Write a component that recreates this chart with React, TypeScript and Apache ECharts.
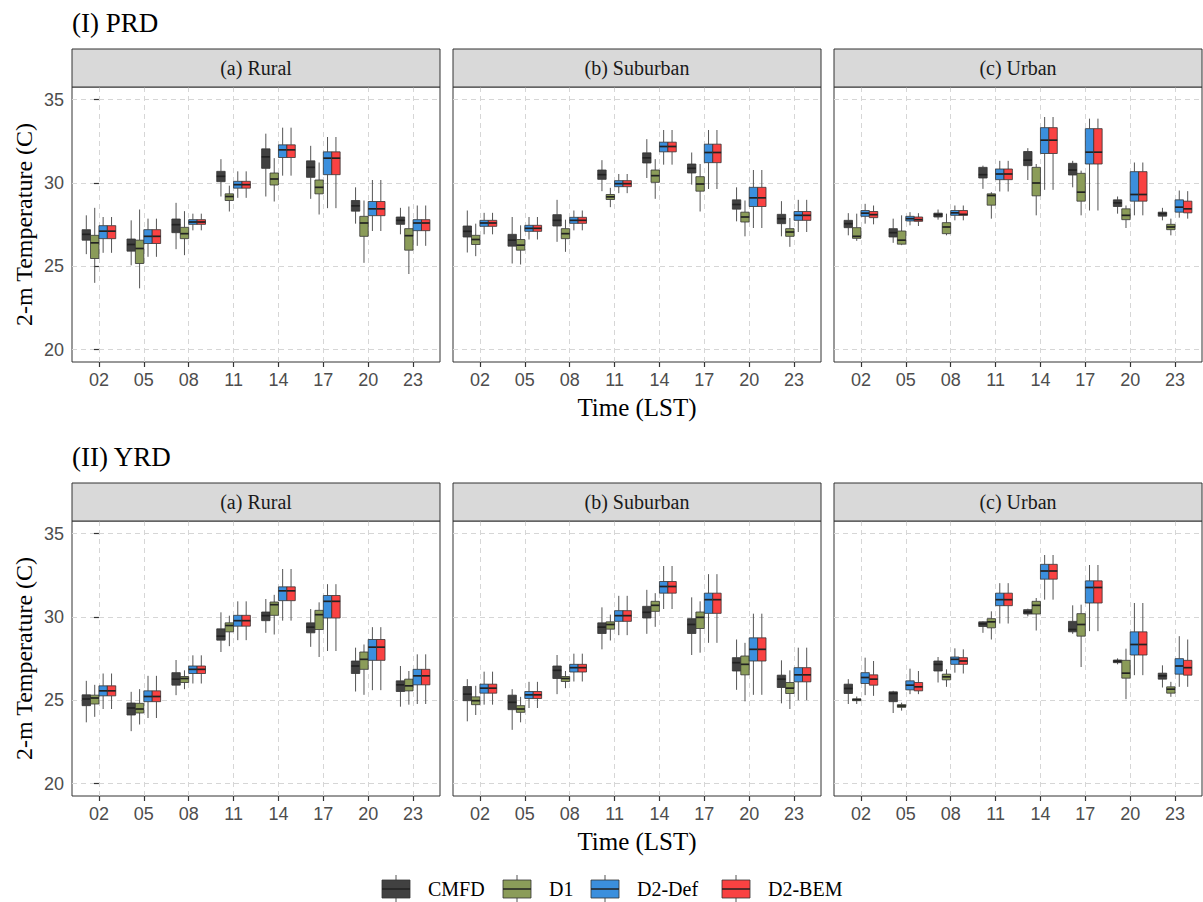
import React, { useEffect, useRef } from 'react';
import * as echarts from 'echarts';

// ---------- categories / labels ----------
const timeLabels = ['02', '05', '08', '11', '14', '17', '20', '23'];
const models = ['CMFD', 'D1', 'D2-Def', 'D2-BEM'];
const modelColors = ['#414141', '#8b9c59', '#3b8fdd', '#f94242'];
const siteNames = ['(a) Rural', '(b) Suburban', '(c) Urban'];
const regionTitles = ['(I) PRD', '(II) YRD'];
const yTicks = [20, 25, 30, 35];
const xTicks = [0, 1, 2, 3, 4, 5, 6, 7];

// ---------- data: [min, q1, median, q3, max] per time ----------
// PRD Rural
const prdRuralCMFD = [[25.72, 26.56, 26.91, 27.19, 28.05], [25.05, 25.9, 26.3, 26.63, 27.75], [26.02, 27.01, 27.49, 27.83, 28.8], [29.18, 30.07, 30.39, 30.69, 31.42], [29.18, 30.87, 31.56, 32.04, 32.95], [29.04, 30.33, 30.93, 31.32, 32.22], [27.55, 28.3, 28.62, 28.94, 29.73], [26.91, 27.51, 27.75, 27.95, 28.5]];
const prdRuralD1 = [[24.0, 25.46, 26.4, 26.85, 28.5], [23.67, 25.16, 26.06, 26.56, 28.4], [25.66, 26.65, 26.95, 27.33, 28.3], [28.28, 28.94, 29.18, 29.34, 29.83], [28.88, 29.87, 30.23, 30.59, 31.48], [28.1, 29.34, 29.73, 30.17, 31.22], [25.2, 26.79, 27.59, 27.99, 28.94], [24.53, 25.96, 26.83, 27.25, 28.58]];
const prdRuralDef = [[25.8, 26.65, 27.1, 27.43, 27.95], [25.56, 26.36, 26.79, 27.19, 27.85], [27.15, 27.51, 27.65, 27.79, 28.15], [29.1, 29.68, 29.89, 30.09, 30.69], [30.43, 31.52, 31.98, 32.28, 33.31], [28.48, 30.49, 31.48, 31.86, 32.75], [27.11, 28.03, 28.44, 28.88, 30.17], [26.22, 27.13, 27.59, 27.79, 28.64]];
const prdRuralBEM = [[25.8, 26.65, 27.1, 27.43, 27.95], [25.56, 26.36, 26.79, 27.19, 27.85], [27.15, 27.51, 27.65, 27.79, 28.15], [29.1, 29.68, 29.89, 30.09, 30.69], [30.43, 31.52, 31.98, 32.28, 33.31], [28.48, 30.49, 31.48, 31.86, 32.75], [27.11, 28.03, 28.44, 28.88, 30.17], [26.22, 27.13, 27.59, 27.79, 28.64]];
// PRD Suburban
const prdSubCMFD = [[25.82, 26.75, 27.09, 27.41, 28.34], [25.16, 26.2, 26.56, 26.91, 27.95], [26.46, 27.41, 27.75, 28.09, 28.98], [29.5, 30.21, 30.49, 30.77, 31.36], [30.29, 31.19, 31.5, 31.8, 32.62], [29.89, 30.59, 30.87, 31.13, 31.82], [27.69, 28.42, 28.7, 28.98, 29.73], [26.79, 27.55, 27.85, 28.11, 28.9]];
const prdSubD1 = [[25.6, 26.3, 26.6, 26.85, 27.55], [25.1, 25.96, 26.26, 26.6, 27.45], [25.86, 26.65, 26.95, 27.25, 27.79], [28.54, 29.0, 29.16, 29.3, 29.7], [29.04, 30.03, 30.43, 30.77, 31.42], [28.28, 29.5, 29.93, 30.37, 31.13], [26.79, 27.65, 27.95, 28.24, 28.94], [26.16, 26.79, 27.05, 27.25, 27.89]];
const prdSubDef = [[26.91, 27.39, 27.59, 27.75, 28.2], [26.6, 27.09, 27.27, 27.45, 27.95], [27.15, 27.57, 27.75, 27.93, 28.34], [29.38, 29.77, 29.95, 30.13, 30.53], [31.09, 31.86, 32.18, 32.44, 33.17], [29.63, 31.21, 31.82, 32.32, 33.17], [27.29, 28.58, 29.1, 29.73, 30.77], [27.05, 27.75, 28.05, 28.28, 28.98]];
const prdSubBEM = [[26.91, 27.39, 27.59, 27.75, 28.2], [26.6, 27.09, 27.27, 27.45, 27.95], [27.15, 27.57, 27.75, 27.93, 28.34], [29.38, 29.77, 29.95, 30.13, 30.53], [31.09, 31.86, 32.18, 32.44, 33.17], [29.63, 31.21, 31.82, 32.32, 33.17], [27.29, 28.58, 29.1, 29.73, 30.77], [27.05, 27.75, 28.05, 28.28, 28.98]];
// PRD Urban
const prdUrbCMFD = [[26.85, 27.31, 27.55, 27.75, 28.18], [26.4, 26.75, 27.01, 27.25, 27.85], [27.79, 27.95, 28.09, 28.18, 28.4], [29.64, 30.29, 30.49, 30.93, 31.03], [30.17, 31.03, 31.36, 31.88, 32.08], [29.73, 30.47, 30.77, 31.17, 31.32], [28.15, 28.58, 28.8, 28.98, 29.18], [27.75, 28.0, 28.15, 28.24, 28.5]];
const prdUrbD1 = [[26.52, 26.67, 26.79, 27.31, 28.15], [26.26, 26.32, 26.56, 27.11, 28.05], [26.85, 26.95, 27.35, 27.61, 28.15], [27.85, 28.66, 29.24, 29.34, 29.44], [28.05, 29.22, 29.99, 30.93, 31.13], [28.05, 28.9, 29.44, 30.57, 30.73], [27.29, 27.79, 28.05, 28.44, 28.64], [26.85, 27.19, 27.35, 27.51, 27.85]];
const prdUrbDef = [[27.55, 27.99, 28.18, 28.34, 28.74], [27.45, 27.71, 27.85, 27.99, 28.24], [27.75, 28.05, 28.2, 28.34, 28.64], [29.48, 30.19, 30.53, 30.83, 31.32], [29.58, 31.76, 32.56, 33.31, 33.95], [28.34, 31.13, 31.84, 33.25, 33.85], [28.05, 28.9, 29.3, 30.67, 31.22], [27.91, 28.24, 28.54, 28.98, 29.54]];
const prdUrbBEM = [[27.51, 27.91, 28.09, 28.28, 28.64], [27.41, 27.69, 27.79, 27.95, 28.18], [27.75, 28.05, 28.11, 28.34, 28.64], [29.48, 30.19, 30.53, 30.83, 31.32], [29.58, 31.76, 32.56, 33.31, 33.95], [28.34, 31.13, 31.84, 33.25, 33.85], [28.05, 28.9, 29.3, 30.67, 31.22], [27.85, 28.2, 28.44, 28.9, 29.5]];
// YRD Rural
const yrdRuralCMFD = [[23.67, 24.67, 25.07, 25.32, 26.16], [23.14, 24.11, 24.53, 24.83, 25.5], [25.3, 25.9, 26.26, 26.65, 27.41], [27.89, 28.6, 28.84, 29.28, 30.27], [29.04, 29.77, 30.07, 30.29, 31.07], [28.2, 29.04, 29.38, 29.64, 30.47], [25.52, 26.6, 27.05, 27.35, 28.15], [24.61, 25.52, 25.92, 26.16, 27.05]];
const yrdRuralD1 = [[24.0, 24.77, 25.13, 25.3, 25.92], [23.54, 24.23, 24.47, 24.81, 25.66], [25.66, 26.06, 26.3, 26.42, 26.79], [28.24, 29.1, 29.48, 29.64, 30.07], [28.94, 30.09, 30.73, 30.89, 31.32], [27.59, 29.24, 30.13, 30.39, 30.87], [25.32, 26.85, 27.45, 27.89, 28.34], [24.73, 25.56, 25.86, 26.26, 26.75]];
const yrdRuralDef = [[24.47, 25.26, 25.56, 25.86, 26.6], [23.93, 24.91, 25.22, 25.56, 26.46], [26.0, 26.6, 26.85, 27.05, 27.69], [28.6, 29.44, 29.77, 30.09, 30.93], [29.77, 30.97, 31.56, 31.8, 32.87], [27.95, 29.93, 30.93, 31.28, 31.96], [25.6, 27.39, 28.18, 28.64, 29.38], [24.77, 25.92, 26.46, 26.85, 27.75]];
const yrdRuralBEM = [[24.47, 25.26, 25.56, 25.86, 26.6], [23.93, 24.91, 25.22, 25.56, 26.46], [26.0, 26.6, 26.85, 27.05, 27.69], [28.6, 29.44, 29.77, 30.09, 30.93], [29.77, 30.97, 31.56, 31.8, 32.87], [27.95, 29.93, 30.93, 31.28, 31.96], [25.6, 27.39, 28.18, 28.64, 29.38], [24.77, 25.92, 26.46, 26.85, 27.75]];
// YRD Suburban
const yrdSubCMFD = [[23.73, 24.97, 25.36, 25.82, 26.26], [23.22, 24.43, 24.87, 25.3, 25.66], [25.36, 26.3, 26.79, 27.05, 27.71], [28.05, 29.0, 29.38, 29.64, 30.57], [28.98, 29.93, 30.27, 30.63, 31.62], [27.71, 29.0, 29.54, 29.89, 31.17], [25.62, 26.75, 27.25, 27.55, 28.64], [24.81, 25.76, 26.26, 26.5, 27.39]];
const yrdSubD1 = [[24.11, 24.73, 24.97, 25.2, 25.86], [23.67, 24.27, 24.47, 24.67, 25.2], [25.72, 26.12, 26.3, 26.42, 26.75], [28.58, 29.26, 29.54, 29.7, 30.13], [29.4, 30.33, 30.69, 30.93, 31.42], [27.85, 29.3, 29.97, 30.29, 30.93], [24.93, 26.52, 27.15, 27.65, 28.44], [24.47, 25.4, 25.72, 26.06, 26.79]];
const yrdSubDef = [[24.73, 25.42, 25.72, 25.96, 26.71], [24.53, 25.1, 25.32, 25.52, 26.1], [26.12, 26.69, 26.95, 27.15, 27.79], [28.9, 29.73, 30.07, 30.37, 31.26], [30.47, 31.42, 31.82, 32.12, 33.05], [28.44, 30.21, 31.03, 31.42, 32.56], [25.32, 27.35, 28.05, 28.74, 30.19], [25.0, 26.1, 26.52, 26.95, 28.15]];
const yrdSubBEM = [[24.73, 25.42, 25.72, 25.96, 26.71], [24.53, 25.1, 25.32, 25.52, 26.1], [26.12, 26.69, 26.95, 27.15, 27.79], [28.9, 29.73, 30.07, 30.37, 31.26], [30.47, 31.42, 31.82, 32.12, 33.05], [28.44, 30.21, 31.03, 31.42, 32.56], [25.32, 27.35, 28.05, 28.74, 30.19], [25.0, 26.1, 26.52, 26.95, 28.15]];
// YRD Urban
const yrdUrbCMFD = [[24.77, 25.4, 25.7, 25.96, 26.26], [24.23, 24.91, 25.4, 25.5, 25.56], [26.06, 26.75, 27.15, 27.35, 27.59], [29.04, 29.42, 29.58, 29.7, 29.73], [30.03, 30.17, 30.29, 30.43, 30.49], [28.98, 29.1, 29.24, 29.73, 30.69], [27.15, 27.25, 27.33, 27.41, 27.51], [25.76, 26.26, 26.46, 26.62, 27.09]];
const yrdUrbD1 = [[24.77, 24.97, 25.03, 25.08, 25.22], [24.37, 24.57, 24.65, 24.73, 24.85], [25.8, 26.22, 26.4, 26.56, 26.85], [28.64, 29.34, 29.7, 29.89, 30.33], [29.18, 30.17, 30.69, 30.93, 31.13], [26.99, 28.84, 29.54, 30.19, 30.73], [25.06, 26.32, 26.62, 27.39, 28.09], [25.2, 25.42, 25.66, 25.8, 26.1]];
const yrdUrbDef = [[25.3, 26.0, 26.36, 26.65, 27.55], [25.36, 25.62, 25.9, 26.16, 26.89], [26.65, 27.15, 27.45, 27.59, 28.11], [29.6, 30.67, 31.03, 31.42, 32.02], [31.03, 32.26, 32.75, 33.15, 33.71], [29.14, 30.83, 31.76, 32.16, 33.11], [26.5, 27.71, 28.34, 29.1, 30.83], [25.8, 26.56, 27.05, 27.49, 28.84]];
const yrdUrbBEM = [[25.26, 25.9, 26.26, 26.52, 27.35], [25.36, 25.56, 25.8, 26.06, 26.75], [26.6, 27.15, 27.35, 27.55, 28.05], [29.6, 30.67, 31.03, 31.42, 32.02], [31.03, 32.26, 32.75, 33.15, 33.71], [29.14, 30.83, 31.76, 32.16, 33.11], [26.5, 27.71, 28.34, 29.1, 30.83], [25.8, 26.5, 26.95, 27.39, 28.64]];

const panelData = [
  [prdRuralCMFD, prdRuralD1, prdRuralDef, prdRuralBEM],
  [prdSubCMFD, prdSubD1, prdSubDef, prdSubBEM],
  [prdUrbCMFD, prdUrbD1, prdUrbDef, prdUrbBEM],
  [yrdRuralCMFD, yrdRuralD1, yrdRuralDef, yrdRuralBEM],
  [yrdSubCMFD, yrdSubD1, yrdSubDef, yrdSubBEM],
  [yrdUrbCMFD, yrdUrbD1, yrdUrbDef, yrdUrbBEM],
];

// ---------- layout ----------
const SERIF = '"Liberation Serif", "Times New Roman", serif';
const SANS = '"Liberation Sans", Arial, sans-serif';
const colLeft = [72, 453, 834];
const panelW = 368;
const rowTop = [87, 521];
const panelH = 275;
const stripH = 38;
const legendKeyLeft = [382, 503, 591, 722];
const legendY = 889;

function makeRender(m: number) {
  return (params: any, api: any) => {
    const x = api.value(0);
    const lo = api.coord([x, api.value(1)]);
    const q1 = api.coord([x, api.value(2)]);
    const md = api.coord([x, api.value(3)]);
    const q3 = api.coord([x, api.value(4)]);
    const hi = api.coord([x, api.value(5)]);
    const unit = api.size([1, 0])[0];
    const w = (unit * 0.75) / 4;
    const cx = lo[0] + (m - 1.5) * w;
    return {
      type: 'group',
      children: [
        { type: 'line', shape: { x1: cx, y1: hi[1], x2: cx, y2: q3[1] }, style: { stroke: '#555', lineWidth: 1 } },
        { type: 'line', shape: { x1: cx, y1: q1[1], x2: cx, y2: lo[1] }, style: { stroke: '#555', lineWidth: 1 } },
        {
          type: 'rect',
          shape: { x: cx - w / 2, y: q3[1], width: w, height: q1[1] - q3[1] },
          style: { fill: modelColors[m], stroke: '#333', lineWidth: 0.8 },
        },
        { type: 'line', shape: { x1: cx - w / 2, y1: md[1], x2: cx + w / 2, y2: md[1] }, style: { stroke: '#222', lineWidth: 1.7 } },
      ],
    };
  };
}

export default function App() {
  const ref = useRef<HTMLDivElement>(null);
  useEffect(() => {
    const chart = echarts.init(ref.current!, null, { renderer: 'svg' });
    const grids: any[] = [];
    const xAxes: any[] = [];
    const yAxes: any[] = [];
    const series: any[] = [];
    const graphics: any[] = [];
    const gridLine = { show: true, lineStyle: { color: '#d6d6d6', width: 1, type: [5, 4] } };

    panelData.forEach((pd, i) => {
      const row = Math.floor(i / 3);
      const col = i % 3;
      grids.push({
        left: colLeft[col], top: rowTop[row], width: panelW, height: panelH,
        show: true, borderColor: '#333', borderWidth: 1, backgroundColor: '#fff',
        containLabel: false, outerBoundsMode: 'none',
      });
      xAxes.push({
        type: 'value', gridIndex: i, min: -0.6, max: 7.6,
        axisLine: { show: false },
        axisTick: { show: true, length: 5, customValues: xTicks, lineStyle: { color: '#333', width: 1.2 } },
        axisLabel: {
          customValues: xTicks, margin: 9, fontFamily: SANS, fontSize: 18, color: '#4d4d4d',
          formatter: (v: number) => timeLabels[Math.round(v)] ?? '',
        },
        splitLine: gridLine,
      });
      yAxes.push({
        type: 'value', gridIndex: i, min: 19.25, max: 35.75, splitNumber: 3,
        axisLine: { show: false },
        axisTick: { show: col === 0, length: 5, customValues: yTicks, lineStyle: { color: '#333', width: 1.2 } },
        axisLabel: {
          show: col === 0, customValues: yTicks, margin: 8, fontFamily: SANS, fontSize: 18, color: '#4d4d4d',
        },
        splitLine: gridLine,
      });
      pd.forEach((arr, m) => {
        series.push({
          type: 'custom', name: models[m], xAxisIndex: i, yAxisIndex: i,
          data: arr.map((d, k) => [xTicks[k], ...d]),
          encode: { x: 0, y: [1, 2, 3, 4, 5] },
          renderItem: makeRender(m), silent: true, clip: false,
        });
      });
      // strip
      graphics.push({
        type: 'rect', z: 10,
        shape: { x: colLeft[col], y: rowTop[row] - stripH, width: panelW, height: stripH },
        style: { fill: '#d9d9d9', stroke: '#333', lineWidth: 1 },
      });
      graphics.push({
        type: 'text', z: 11, x: colLeft[col] + panelW / 2, y: rowTop[row] - stripH / 2,
        style: {
          text: siteNames[col], fontFamily: SERIF, fontSize: 20, fill: '#1a1a1a',
          align: 'center', verticalAlign: 'middle', textAlign: 'center', textVerticalAlign: 'middle',
        },
      });
    });

    regionTitles.forEach((t, r) => {
      const top = rowTop[r];
      graphics.push({
        type: 'text', z: 11, x: 72, y: top - 64,
        style: { text: t, fontFamily: SERIF, fontSize: 27, fill: '#000', align: 'left', verticalAlign: 'middle', textAlign: 'left', textVerticalAlign: 'middle' },
      });
      graphics.push({
        type: 'text', z: 11, x: 637, y: top + panelH + 45,
        style: { text: 'Time (LST)', fontFamily: SERIF, fontSize: 25, fill: '#000', align: 'center', verticalAlign: 'middle', textAlign: 'center', textVerticalAlign: 'middle' },
      });
      graphics.push({
        type: 'text', z: 11, x: 24, y: top + panelH / 2, rotation: Math.PI / 2,
        style: { text: '2-m Temperature (C)', fontFamily: SERIF, fontSize: 24, fill: '#000', align: 'center', verticalAlign: 'middle', textAlign: 'center', textVerticalAlign: 'middle' },
      });
    });

    // legend
    models.forEach((name, m) => {
      const kx = legendKeyLeft[m];
      const cx = kx + 14;
      graphics.push({ type: 'line', z: 11, shape: { x1: cx, y1: legendY - 14, x2: cx, y2: legendY + 14 }, style: { stroke: '#555', lineWidth: 1 } });
      graphics.push({ type: 'rect', z: 12, shape: { x: kx, y: legendY - 9, width: 28, height: 18 }, style: { fill: modelColors[m], stroke: '#333', lineWidth: 0.8 } });
      graphics.push({ type: 'line', z: 13, shape: { x1: kx, y1: legendY, x2: kx + 28, y2: legendY }, style: { stroke: '#222', lineWidth: 1.5 } });
      graphics.push({
        type: 'text', z: 13, x: kx + 46, y: legendY,
        style: { text: name, fontFamily: SERIF, fontSize: 20, fill: '#000', align: 'left', verticalAlign: 'middle', textAlign: 'left', textVerticalAlign: 'middle' },
      });
    });

    chart.setOption({
      animation: false,
      backgroundColor: '#fff',
      grid: grids,
      xAxis: xAxes,
      yAxis: yAxes,
      series,
      graphic: { elements: graphics },
    });
    return () => chart.dispose();
  }, []);
  return <div ref={ref} style={{ position: 'absolute', left: 0, top: 0, width: 1203, height: 902 }} />;
}
